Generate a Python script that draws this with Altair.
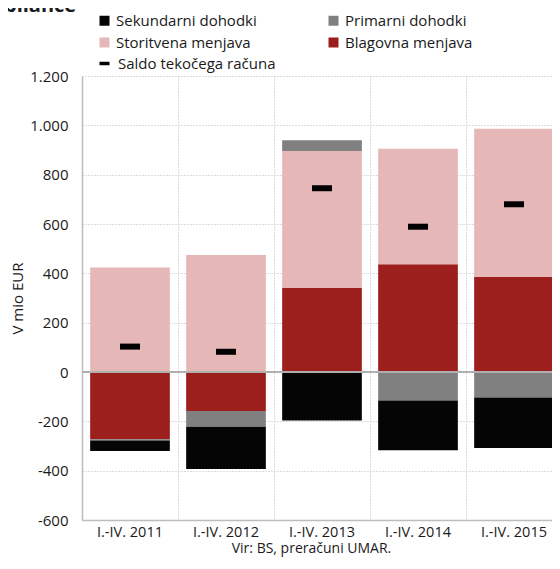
import altair as alt
import pandas as pd

categories = ["I.-IV. 2011", "I.-IV. 2012", "I.-IV. 2013", "I.-IV. 2014", "I.-IV. 2015"]
# legend order (filled column by column): Sekundarni, Storitvena | Primarni, Blagovna
series_names = ["Sekundarni dohodki", "Storitvena menjava", "Primarni dohodki", "Blagovna menjava"]
series_colors = ["#050505", "#e5b8b7", "#808080", "#9c1f1d"]

blagovna = [-273, -158, 342, 437, 385]
storitvena = [424, 474, 554, 468, 601]
primarni = [-5, -64, 44, -116, -103]
sekundarni = [-42, -171, -197, -201, -205]
saldo = [103, 82, 745, 589, 680]
saldo_name = "Saldo tekočega računa"
y_ticks = [-600, -400, -200, 0, 200, 400, 600, 800, 1000, 1200]

stack_order = ["Blagovna menjava", "Storitvena menjava", "Primarni dohodki", "Sekundarni dohodki"]
series_values = {
    "Blagovna menjava": blagovna,
    "Storitvena menjava": storitvena,
    "Primarni dohodki": primarni,
    "Sekundarni dohodki": sekundarni,
}

rows = []
for i, c in enumerate(categories):
    for k, name in enumerate(stack_order):
        rows.append({"cat": c, "series": name, "value": series_values[name][i], "ord": k})
bars_df = pd.DataFrame(rows)
saldo_df = pd.DataFrame({"cat": categories, "saldo": saldo, "label": [saldo_name] * len(categories)})
zero_df = pd.DataFrame({"y": [0]})
title_df = pd.DataFrame({"t": ["bilance"]})

FONT = "Open Sans"
TXT = "#1a1a1a"

x_enc = alt.X(
    "cat:N",
    sort=categories,
    scale=alt.Scale(paddingInner=0, paddingOuter=0),
    axis=alt.Axis(
        title="Vir: BS, preračuni UMAR.",
        labelAngle=0,
        bandPosition=0,
        grid=True,
        gridDash=[1, 2],
        gridColor="#b8b8b8",
        ticks=False,
        domainColor="#bdbdbd",
        domainWidth=1.5,
        labelPadding=5,
        labelFontSize=14.5,
        labelColor=TXT,
        titleFontSize=14,
        titleFontWeight="normal",
        titleColor=TXT,
        titlePadding=3,
        titleX=229,
    ),
)

y_enc = alt.Y(
    "value:Q",
    stack="zero",
    scale=alt.Scale(domain=[-600, 1200], nice=False, zero=False),
    axis=alt.Axis(
        values=y_ticks,
        title="V mio EUR",
        labelExpr="replace(replace(format(datum.value, ','), ',', '.'), '\u2212', '-')",
        grid=True,
        gridDash=[1, 2],
        gridColor="#b8b8b8",
        ticks=False,
        domainColor="#bdbdbd",
        domainWidth=1.5,
        labelPadding=14,
        labelFontSize=15,
        labelColor=TXT,
        titleFontSize=15,
        titleFontWeight="normal",
        titleColor=TXT,
        titlePadding=4,
    ),
)

bars = alt.Chart(bars_df).mark_bar(width=alt.RelativeBandSize(0.83)).encode(
    x=x_enc,
    y=y_enc,
    color=alt.Color(
        "series:N",
        scale=alt.Scale(domain=series_names, range=series_colors),
        legend=alt.Legend(
            title=None,
            orient="none",
            legendX=15,
            legendY=-63,
            columns=2,
            columnPadding=69,
            rowPadding=6,
            symbolType="square",
            symbolSize=100,
            symbolStrokeWidth=0,
            labelFontSize=15,
            labelColor=TXT,
            labelOffset=4,
            padding=0,
        ),
    ),
    order=alt.Order("ord:Q"),
)

zero = alt.Chart(zero_df).mark_rule(color="#b0b0b0", strokeWidth=2).encode(y="y:Q")

ticks = alt.Chart(saldo_df).mark_tick(thickness=6, size=20, opacity=1).encode(
    x=alt.X("cat:N", sort=categories),
    y=alt.Y("saldo:Q"),
    color=alt.Color(
        "label:N",
        scale=alt.Scale(domain=[saldo_name], range=["#000000"]),
        legend=alt.Legend(
            title=None,
            orient="none",
            legendX=15,
            legendY=-20,
            symbolType="M-1,-0.35H1V0.35H-1Z",
            symbolSize=100,
            symbolFillColor="#000000",
            symbolStrokeWidth=0,
            labelFontSize=15,
            labelColor=TXT,
            labelOffset=6,
            padding=0,
        ),
    ),
)

title = alt.Chart(title_df).mark_text(
    align="left", baseline="alphabetic", fontSize=20, fontWeight="bold", font=FONT, color=TXT
).encode(text="t:N", x=alt.value(-78), y=alt.value(-64))

chart = (
    alt.layer(bars, zero, ticks, title)
    .resolve_scale(color="independent")
    .resolve_legend(color="independent")
    .properties(
        width=480,
        height=444,
        padding={"left": 74, "top": 68, "right": -10, "bottom": 41},
        autosize=alt.AutoSizeParams(type="none"),
    )
    .configure(font=FONT)
    .configure_view(stroke=None)
)

chart.save("out.html", embed_options={"renderer": "svg", "actions": False})
